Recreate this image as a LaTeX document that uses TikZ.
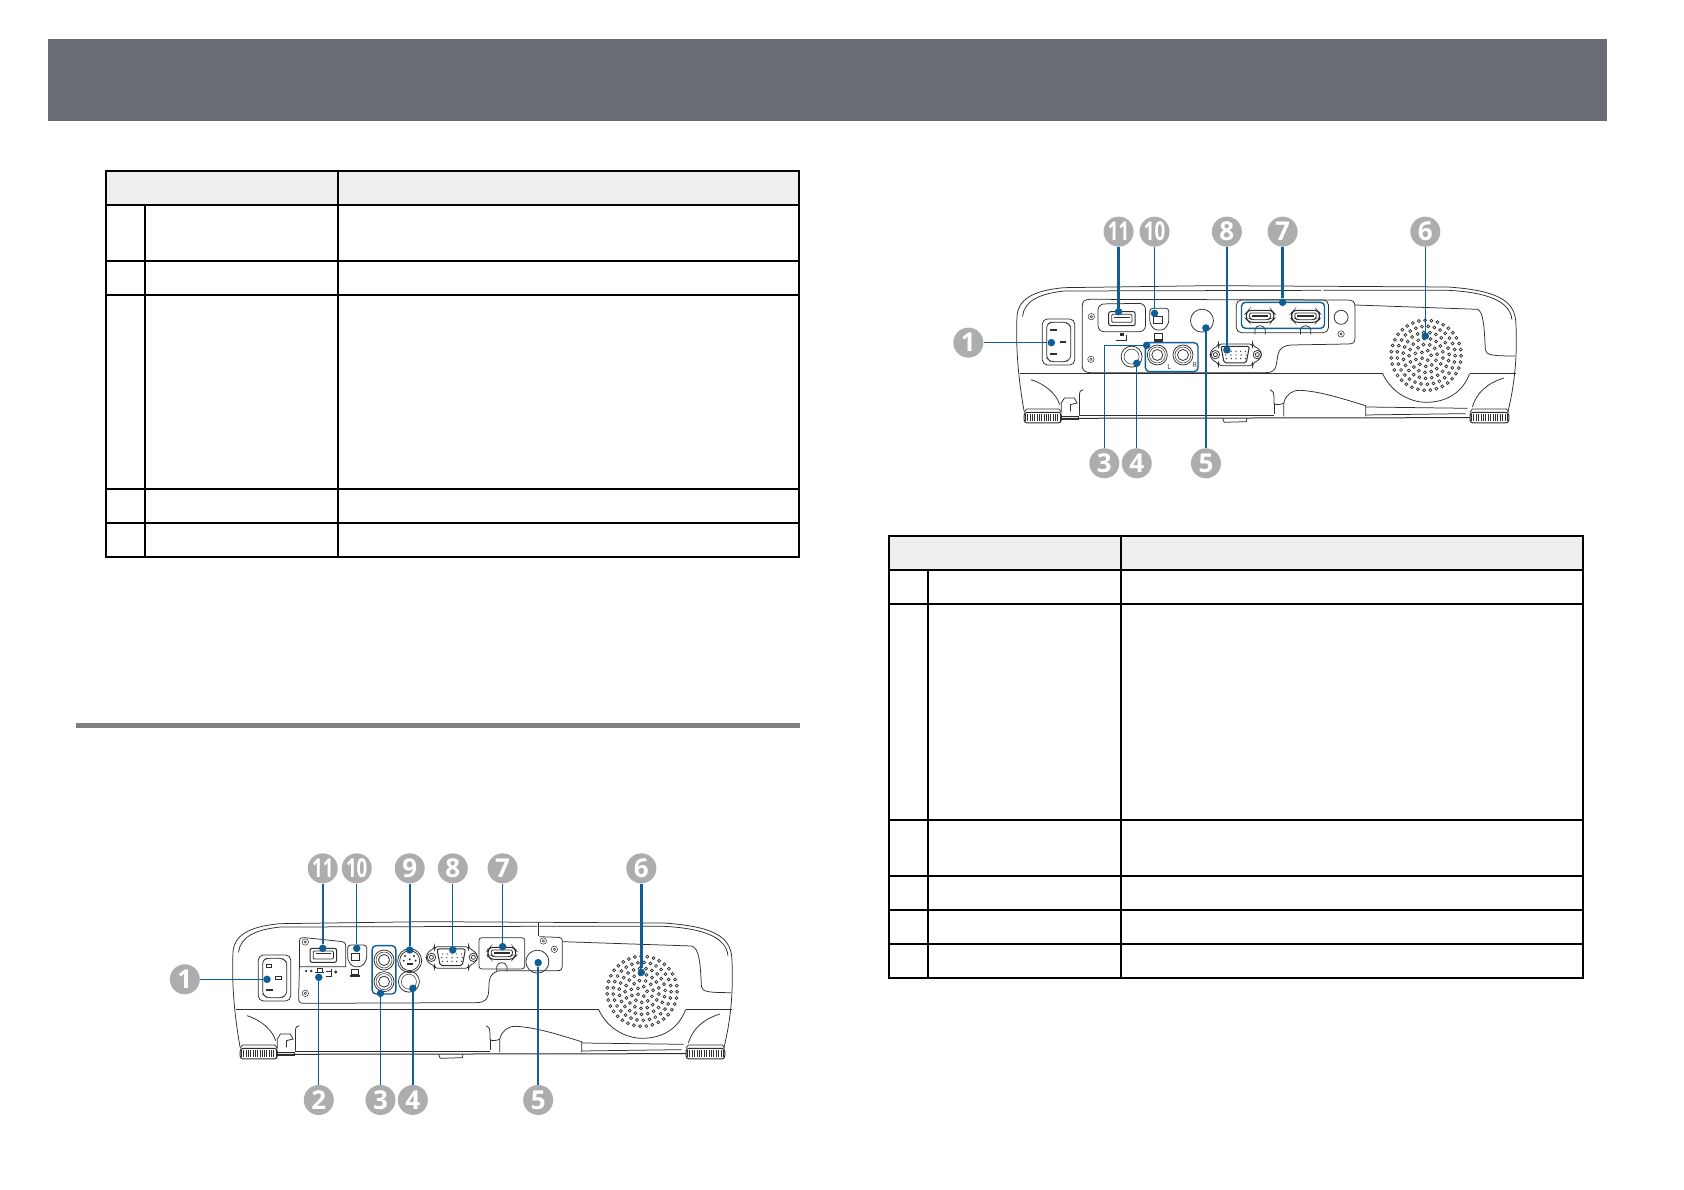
\documentclass[tikz,border=0pt]{standalone}
\usepackage{graphicx}
\usepackage{fontspec}
\setmainfont{Open Sans}
\definecolor{bannerc}{HTML}{696C74}
\definecolor{rulec}{HTML}{808080}
\definecolor{headc}{HTML}{EFEFEF}
\definecolor{blu}{HTML}{0F5F96}
\definecolor{badgec}{HTML}{ADADAD}
\definecolor{ink}{HTML}{2E2E2E}
\tikzset{
  badge/.style={circle,fill=badgec,minimum size=30pt,inner sep=0pt,text=white,font=\bfseries\fontsize{26}{26}\selectfont},
  pt/.style={circle,fill=blu,minimum size=7.5pt,inner sep=0pt},
  thin line/.style={draw=blu,line width=1.3pt},
  mid line/.style={draw=blu,line width=1.6pt},
  thick line/.style={draw=blu,line width=2.4pt},
  group/.style={draw=blu,line width=1.4pt,rounded corners=4pt},
  body/.style={draw=ink,line width=.75pt},
  bodyb/.style={draw=ink,line width=1pt},
  fine/.style={draw=ink,line width=.5pt},
  grid/.style={draw=black,line width=2pt},
  zoomed/.style={x=.3953pt,y=-.3333pt},
}
% callout: prefix, number text, badge x,y, point x,y, line style
\newcommand\callout[7]{%
  \node[badge] (#1b) at (#3,#4) {#2};
  \node[pt] (#1d) at (#5,#6) {};
  \draw[#7] (#1b) -- (#1d);
}
\newcommand\screw[2]{\draw[fine] (#1,#2) circle[radius=3.2pt] (#1,#2) circle[radius=1.2pt];}
\newcommand\jack[2]{\draw[body] (#1,#2) circle[radius=10pt];\draw[fine] (#1,#2) circle[radius=8pt];\draw[body] (#1,#2) circle[radius=5.5pt];}
\newcommand\usbA[2]{\begin{scope}[shift={(#1,#2)}]
  \draw[bodyb,fill=white,rounded corners=2pt] (0,0) rectangle (67,42);
  \draw[body,rounded corners=1pt] (8,8) rectangle (59,32);
  \fill[ink] (14,15) rectangle (53,18);
\end{scope}}
\newcommand\usbB[2]{\begin{scope}[shift={(#1,#2)}]
  \draw[body,fill=white,rounded corners=3pt] (0,0) -- (48,0) -- (48,45) -- (36,65) -- (12,65) -- (0,45) -- cycle;
  \draw[bodyb] (10,25) rectangle (31,47);
\end{scope}}
\newcommand\laptop[2]{\begin{scope}[shift={(#1,#2)}]
  \draw[bodyb] (0,0) rectangle (18,16);
  \fill[ink] (-3,18) rectangle (21,23);
\end{scope}}
\newcommand\vga[2]{\begin{scope}[shift={(#1,#2)}]
  \draw[body,rounded corners=3pt] (22,0) -- (22,5) -- (5,15) -- (0,32) -- (5,48) -- (22,58) -- (22,65) -- (108,65) -- (108,58) -- (125,48) -- (132,32) -- (125,15) -- (108,5) -- (108,0) -- cycle;
  \draw[bodyb,rounded corners=2pt] (28,7) -- (100,7) -- (92,57) -- (36,57) -- cycle;
  \foreach \u in {0,1,2,3,4}{\fill[ink] (42+\u*12,22) circle[radius=.7pt];\fill[ink] (40+\u*13,33) circle[radius=.7pt];\fill[ink] (42+\u*12,44) circle[radius=.7pt];}
  \draw[body] (14,32) circle[radius=4.2pt] (14,32) circle[radius=2pt];
  \draw[body] (120,32) circle[radius=4.2pt] (120,32) circle[radius=2pt];
\end{scope}}
\newcommand\hdmi[2]{\begin{scope}[shift={(#1,#2)}]
  \draw[bodyb,rounded corners=3pt] (6,0) -- (64,0) -- (70,8) -- (70,26) -- (62,36) -- (8,36) -- (0,26) -- (0,8) -- cycle;
  \draw[body,rounded corners=2pt] (8,8) -- (62,8) -- (62,24) -- (56,28) -- (14,28) -- (8,24) -- cycle;
  \fill[ink] (14,15) rectangle (56,19);
  \draw[body] (22,72) -- (22,58) .. controls (24,42) and (46,42) .. (48,58) -- (48,72);
\end{scope}}
% Shell of the projector, in the coordinates of the left view
\newcommand\shell{%
  \draw[body] (228,625) .. controls (215,540) and (206,440) .. (210,340) .. controls (212,290) and (250,262) .. (330,254) -- (700,248) -- (1300,252) .. controls (1420,262) and (1470,290) .. (1472,360) .. controls (1476,450) and (1470,540) .. (1452,625);
  \draw[body] (224,340) .. controls (228,295) and (265,272) .. (330,264) -- (980,262);
  \draw[body] (985,262) -- (1300,262) .. controls (1400,268) and (1458,295) .. (1462,350);
  \draw[bodyb] (218,512) -- (1135,512);
  \draw[bodyb] (1355,512) -- (1472,512);
  \draw[body] (1135,512) .. controls (1160,575) and (1210,598) .. (1245,598) .. controls (1290,598) and (1335,575) .. (1355,512);
  % inlet
  \draw[body,rounded corners=5pt] (274,348) rectangle (356,486);
  \draw[body,rounded corners=3pt] (285,365) -- (295,358) -- (335,358) -- (346,370) -- (346,465) -- (335,476) -- (295,476) -- (285,465) -- cycle;
  \fill[ink] (293,450) rectangle (310,456);
  % lower details
  \draw[body] (245,530) .. controls (285,545) and (310,575) .. (318,605);
  \draw[body] (368,635) -- (368,575) .. controls (368,565) and (372,560) .. (378,560);
  \draw[body] (850,560) .. controls (858,562) and (860,570) .. (860,585) -- (860,600) .. controls (860,608) and (880,605) .. (885,600);
  \draw[body] (885,640) -- (885,600) .. controls (890,575) and (905,562) .. (925,562) .. controls (980,565) and (1040,590) .. (1092,608) -- (1092,640);
  \draw[body] (1092,612) -- (1350,616);
  \draw[body] (1092,636) -- (1345,632);
  \draw[body] (860,600) -- (860,634);
  \draw[body] (368,636) -- (860,636);
  \draw[body] (322,628) -- (322,600) -- (330,585) -- (355,585) -- (362,600) -- (345,605) -- (345,625);
  \draw[body] (322,650) -- (365,650) -- (365,640) -- (322,640);
  \draw[body] (1362,612) .. controls (1372,570) and (1400,540) .. (1442,525);
  \draw[bodyb] (322,646) -- (1358,644);
  \draw[body] (730,645) -- (734,658) -- (790,656) -- (792,645);
  % feet
  \foreach \fx/\fw in {228/94,1356/98}{
    \draw[bodyb,fill=white,rounded corners=3pt] (\fx,628) rectangle ++(\fw,32);
    \foreach \u in {0,...,15}{\draw[line width=.75pt,ink] (\fx+3+\u*\fw/16,634) -- (\fx+3+\u*\fw/16,654);}
    \draw[body] (\fx+6,618) -- (\fx+\fw-6,618) -- (\fx+\fw,628) (\fx+6,618) -- (\fx,628);
  }
  % speaker grille
  \foreach \r/\n in {0/5,6/11,12/17,18/23,24/29,30/35}{
    \foreach \k in {1,...,\n}{
      \pgfmathsetmacro\ang{\k*360/\n+\r}
      \draw[line width=.7pt,draw=ink] (1245,457) ++(\ang:\r pt) ++(\ang:5pt) circle[radius=1.5pt];
    }
  }
}
\begin{document}
\begin{tikzpicture}[x=1pt,y=-1pt]
\useasboundingbox (0,0) rectangle (1684,1190);
\fill[white] (0,0) rectangle (1684,1190);
\fill[bannerc] (48,39.5) rectangle (1607,121);
\fill[rulec] (76,723) rectangle (800,728);
% first table
\fill[headc] (106,171) rectangle (799,205);
\draw[grid] (106,171) rectangle (799,557);
\foreach \yy in {205,261,295,489,523}{\draw[grid] (106,\yy) -- (799,\yy);}
\draw[grid] (338,171) -- (338,557);
\draw[grid] (144.5,205) -- (144.5,557);
% second table
\fill[headc] (889,536) rectangle (1583,570);
\draw[grid] (889,536) rectangle (1583,978);
\foreach \yy in {570,604,820,875.5,910,944}{\draw[grid] (889,\yy) -- (1583,\yy);}
\draw[grid] (1121,536) -- (1121,978);
\draw[grid] (928,570) -- (928,978);
% left projector shell
\begin{scope}[zoomed,shift={(150pt,-839pt)}]
  \shell
  \draw[bodyb] (294,378) rectangle (308,386);
  \draw[bodyb] (318,414) rectangle (332,422);
  \draw[body] (982,248) -- (982,292);
\end{scope}
\begin{scope}[zoomed,shift={(150pt,-840pt)}]
  \draw[body] (378,380) -- (378,305) .. controls (378,295) and (382,292) .. (392,293) -- (480,304) .. controls (490,305) and (495,308) .. (495,318) -- (495,380) -- cycle;
  \draw[body] (378,380) -- (376,475) .. controls (376,487) and (380,490) .. (390,490) -- (825,488) .. controls (850,488) and (856,475) .. (857,450) -- (858,425) .. controls (860,405) and (870,392) .. (890,392) -- (1030,392) .. controls (1040,392) and (1043,388) .. (1043,380) -- (1043,305) .. controls (1043,295) and (1040,292) .. (1030,292) -- (985,290);
  \draw[body,rounded corners=3pt] (832,387) -- (832,293) -- (948,293) -- (948,387) -- cycle;
  \draw[body] (1043,305) -- (1370,318) .. controls (1390,325) and (1392,370) .. (1395,440) .. controls (1398,455) and (1410,458) .. (1470,458);
  \screw{393}{306}\screw{393}{460}\screw{995}{303}\screw{1023}{328}
  \usbA{405}{325}
  \usbB{500}{315}
  \laptop{510}{388}
  \fill[ink] (395,393) circle[radius=1.3pt] (408,393) circle[radius=1.3pt];
  \draw[body] (418,396) -- (440,396) (424,396) -- (424,384) -- (436,384) -- (436,396);
  \draw[body] (444,394) -- (460,394) (460,388) -- (460,408) -- (445,408);
  \fill[ink] (470,396) circle[radius=1.6pt];
  \jack{592}{360}\jack{592}{425}
  \draw[group] (562,317) rectangle (622,462);
  % S-video
  \draw[body] (657,362) circle[radius=12pt] (657,362) circle[radius=10pt];
  \foreach \px/\py in {645/348,668/348,642/362,672/362,657/358}{\fill[ink] (\px,\py) circle[radius=1.1pt];}
  \fill[ink] (650,370) rectangle (665,374);
  \draw[body] (655,425) circle[radius=10.5pt];
  \draw[fine] (655,425) circle[radius=7.5pt];
  \vga{698}{320}
  \hdmi{855}{322}
  \draw[body] (980,365) circle[radius=11.5pt];
  \callout{La}{1}{88}{418}{296}{418}{mid line}
  \callout{Lk}{\scalebox{.72}[1]{11}}{437}{85}{437}{325}{thick line}
  \callout{Lj}{\scalebox{.72}[1]{10}}{523}{85}{523}{325}{thin line}
  \callout{Li}{9}{657}{85}{657}{330}{thick line}
  \callout{Lh}{8}{766}{85}{766}{330}{thin line}
  \callout{Lg}{7}{892}{85}{892}{320}{thin line}
  \callout{Lf}{6}{1243}{85}{1243}{397}{thick line}
  \callout{Lb}{2}{427}{780}{427}{412}{thin line}
  \callout{Lc}{3}{583}{780}{583}{460}{thin line}
  \callout{Ld}{4}{665}{780}{665}{445}{thin line}
  \callout{Le}{5}{982}{780}{982}{368}{thick line}
\end{scope}
% right projector shell
\begin{scope}[zoomed,shift={(934pt,-203pt)}]
  \shell
  \fill[ink] (293,378) rectangle (310,384);
  \fill[ink] (318,415) rectangle (335,421);
\end{scope}
\begin{scope}[zoomed,shift={(930pt,-200pt)}]
  \draw[body] (385,320) .. controls (385,305) and (390,298) .. (405,298) -- (1055,300) .. controls (1070,300) and (1075,305) .. (1075,320) -- (1075,415) .. controls (1075,428) and (1070,432) .. (1058,432) -- (915,435) .. controls (895,436) and (883,445) .. (880,465) -- (876,495) .. controls (873,512) and (865,518) .. (850,518) -- (405,518) .. controls (392,518) and (385,510) .. (385,498) -- cycle;
  \draw[body,rounded corners=6pt] (425,395) -- (425,312) -- (545,310) -- (545,395) -- cycle;
  \draw[body,rounded corners=5pt] (775,398) -- (775,300) -- (1008,300) -- (1008,398) -- cycle;
  \draw[body] (1075,315) -- (1385,328) .. controls (1400,335) and (1402,380) .. (1405,450) .. controls (1408,465) and (1420,468) .. (1480,468);
  \screw{408}{350}\screw{407}{478}\screw{1040}{402}
  \draw[body] (1040,352) circle[radius=7pt];
  \usbA{452}{335}
  \fill[ink] (480,400) rectangle (490,408);
  \draw[body] (470,420) -- (497,420) -- (497,405);
  \usbB{556}{325}
  \laptop{569}{402}
  \draw[body] (688,362) circle[radius=11.5pt];
  \hdmi{800}{331}
  \hdmi{915}{331}
  \draw[group] (788,307) rectangle (998,385);
  \jack{575}{465}\jack{640}{465}
  \draw[group] (545,428) rectangle (678,515);
  \node[inner sep=0pt,font=\fontsize{7}{7}\selectfont,text=ink] (lL) at (605,500) {L};
  \node[inner sep=0pt,font=\fontsize{7}{7}\selectfont,text=ink] (lR) at (670,495) {R};
  \draw[body] (510,470) circle[radius=10.5pt];
  \draw[fine] (510,470) circle[radius=7.5pt];
  \vga{708}{432}
  \callout{Ra}{1}{97}{428}{307}{428}{mid line}
  \callout{Rk}{\scalebox{.72}[1]{11}}{477}{95}{477}{335}{thick line}
  \callout{Rj}{\scalebox{.72}[1]{10}}{568}{95}{568}{340}{thin line}
  \callout{Rh}{8}{751}{95}{751}{450}{thin line}
  \callout{Rg}{7}{892}{95}{892}{307}{thick line}
  \callout{Rf}{6}{1253}{95}{1253}{408}{thin line}
  \node[badge] (Rcb) at (441,790) {3};
  \node[pt] (Rcd) at (548,436) {};
  \draw[thin line] (Rcb) |- (Rcd);
  \callout{Rd}{4}{523}{790}{523}{490}{thin line}
  \callout{Re}{5}{698}{790}{698}{384}{thick line}
\end{scope}
\end{tikzpicture}
\end{document}
